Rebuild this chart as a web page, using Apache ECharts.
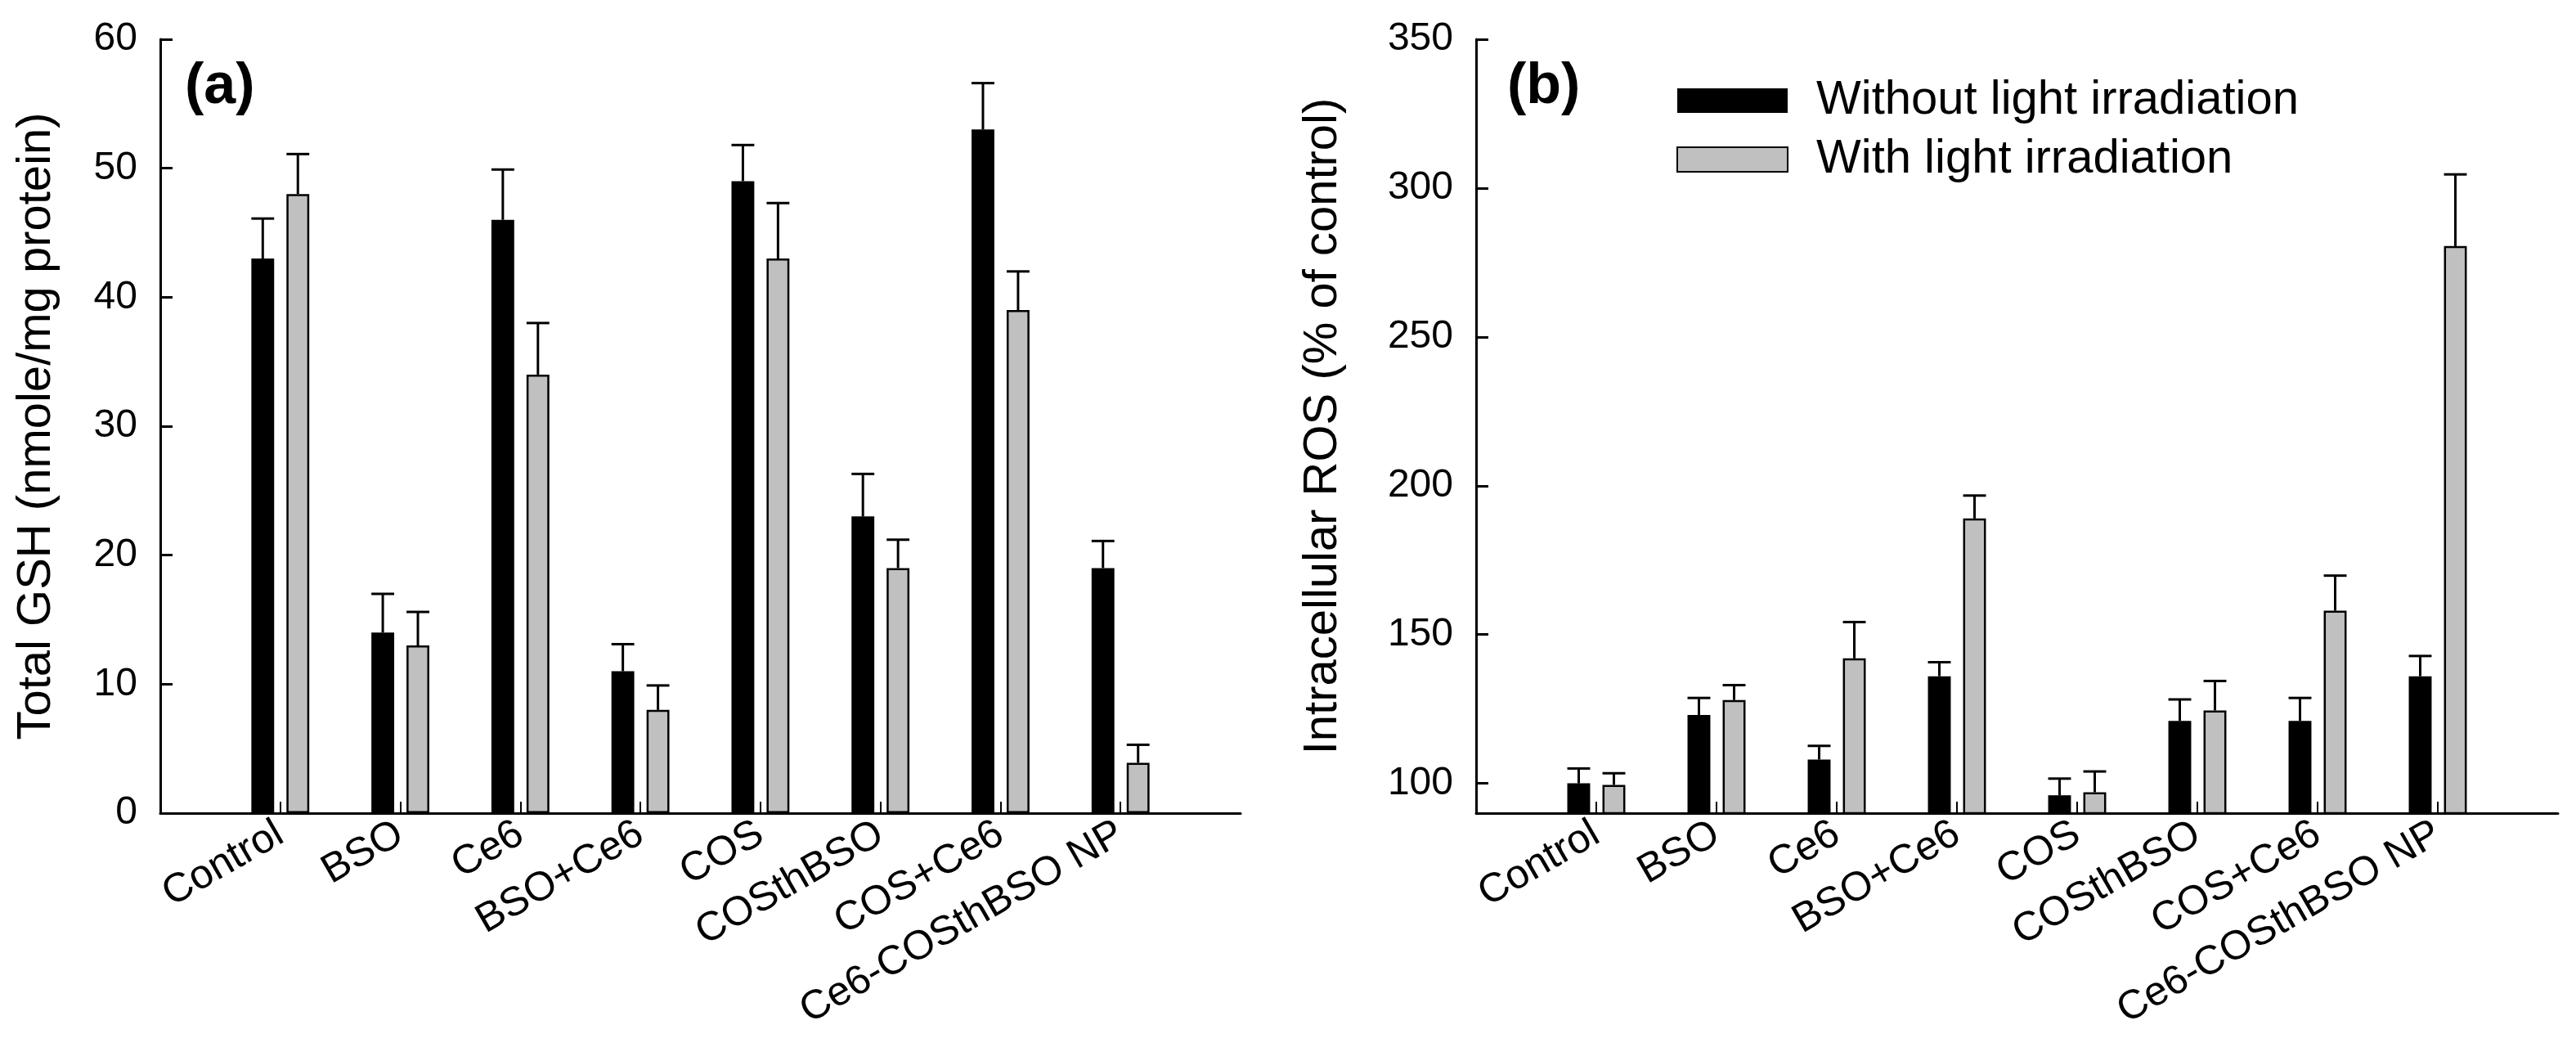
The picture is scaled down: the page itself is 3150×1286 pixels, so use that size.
<!DOCTYPE html>
<html>
<head>
<meta charset="utf-8">
<title>GSH and ROS</title>
<script src="https://cdn.jsdelivr.net/npm/echarts@6/dist/echarts.min.js"></script>
<style>
  html, body { margin: 0; padding: 0; background: #fff; }
  #chart { width: 3150px; height: 1286px; }
</style>
</head>
<body>
<div id="chart"></div>
<script>
// groups on the x axis
const groups = ['Control', 'BSO', 'Ce6', 'BSO+Ce6', 'COS', 'COSthBSO', 'COS+Ce6', 'Ce6-COSthBSO NP']
const seriesNames = ['Without light irradiation', 'With light irradiation']

// (a) total GSH, nmole/mg protein
const gshDark = [43, 14, 46, 11, 49, 23, 53, 19]
const gshDarkErr = [3.1, 3.0, 3.9, 2.1, 2.8, 3.3, 3.6, 2.1]
const gshLight = [48, 13, 34, 8, 43, 19, 39, 3.9]
const gshLightErr = [3.1, 2.6, 4.0, 1.9, 4.3, 2.2, 3.0, 1.4]

// (b) intracellular ROS, % of control
const rosDark = [100, 123, 108, 136, 96, 121, 121, 136]
const rosDarkErr = [5.0, 5.7, 4.6, 4.7, 5.6, 7.2, 7.7, 6.8]
const rosLight = [99.5, 128, 142, 189, 97, 124.5, 158, 280.5]
const rosLightErr = [3.9, 5.0, 12.2, 7.7, 7.0, 9.9, 11.8, 24.1]

const gshTicks = [0, 10, 20, 30, 40, 50, 60]
const rosTicks = [100, 150, 200, 250, 300, 350]

// empty slot at each end, like the original plot
const cats = [''].concat(groups, [''])
const pad = arr => ['-'].concat(arr, ['-'])

const FONT = 'Liberation Sans'
const BAR_W = 0.19      // share of the category slot
const BAR_GAP = 0.54    // share of one bar

const chart = echarts.init(document.getElementById('chart'), null, {renderer: 'canvas'})

function errItems(vals, errs) {
  return vals.map((v, i) => [i + 1, v + errs[i], v])
}

function errorSeries(idx, vals, errs, side) {
  return {
    type: 'custom',
    xAxisIndex: idx,
    yAxisIndex: idx,
    z: 5,
    silent: true,
    encode: {x: 0, y: 1},
    data: errItems(vals, errs),
    renderItem: function (params, api) {
      const band = api.size([1, 0])[0]
      const bw = band * BAR_W
      const shift = side * (bw + bw * BAR_GAP) / 2
      const top = api.coord([api.value(0), api.value(1)])
      const base = api.coord([api.value(0), api.value(2)])
      const x = top[0] + shift
      const st = {stroke: '#000', lineWidth: 3}
      return {
        type: 'group',
        children: [
          {type: 'line', shape: {x1: x, y1: base[1], x2: x, y2: top[1]}, style: st},
          {type: 'line', shape: {x1: x - bw / 2, y1: top[1], x2: x + bw / 2, y2: top[1]}, style: st}
        ]
      }
    }
  }
}

function barSeries(idx, name, vals, light) {
  return {
    type: 'bar',
    name: name,
    xAxisIndex: idx,
    yAxisIndex: idx,
    barWidth: (BAR_W * 100) + '%',
    barGap: (BAR_GAP * 100) + '%',
    data: pad(vals),
    itemStyle: light
      ? {color: '#c0c0c0', borderColor: '#000', borderWidth: 2.5}
      : {color: '#000', borderColor: '#000', borderWidth: 0},
    emphasis: {disabled: true}
  }
}

function xAxis(idx) {
  return {
    type: 'category',
    gridIndex: idx,
    data: cats,
    boundaryGap: false,
    axisLine: {lineStyle: {color: '#000', width: 3}},
    axisTick: {
      inside: true, length: 14,
      interval: (i) => i > 0 && i < cats.length - 1,
      lineStyle: {color: '#000', width: 2}
    },
    axisLabel: {
      interval: 0, rotate: 30, margin: 22,
      color: '#000', fontFamily: FONT, fontSize: 50
    },
    splitLine: {show: false}
  }
}

const yBase = {
  type: 'value',
  nameLocation: 'middle',
  nameTextStyle: {color: '#000', fontFamily: FONT, fontSize: 58},
  axisLine: {show: true, lineStyle: {color: '#000', width: 3}},
  axisTick: {show: true, inside: true, length: 15, lineStyle: {color: '#000', width: 3}},
  axisLabel: {color: '#000', fontFamily: FONT, fontSize: 48, margin: 28},
  splitLine: {show: false}
}

const option = {
  backgroundColor: '#fff',
  animation: false,
  grid: [
    {left: 196, top: 48, width: 1321, height: 946},
    {left: 1805, top: 48, width: 1323, height: 946}
  ],
  xAxis: [xAxis(0), xAxis(1)],
  yAxis: [
    Object.assign({}, yBase, {
      gridIndex: 0, min: gshTicks[0], max: gshTicks[gshTicks.length - 1], interval: 10,
      name: 'Total GSH (nmole/mg protein)', nameGap: 122
    }),
    Object.assign({}, yBase, {
      gridIndex: 1, min: 90, max: rosTicks[rosTicks.length - 1],
      name: 'Intracellular ROS (% of control)', nameGap: 158,
      axisTick: Object.assign({}, yBase.axisTick, {customValues: rosTicks}),
      axisLabel: Object.assign({}, yBase.axisLabel, {customValues: rosTicks})
    })
  ],
  legend: {
    orient: 'vertical',
    left: 2045,
    top: 88,
    icon: 'rect',
    itemWidth: 135,
    itemHeight: 30,
    itemGap: 12,
    selectedMode: false,
    data: seriesNames,
    textStyle: {color: '#000', fontFamily: FONT, fontSize: 58, lineHeight: 60, padding: [0, 0, 0, 30]}
  },
  graphic: [
    {type: 'text', left: 226, top: 72, style: {text: '(a)', font: 'bold 70px "Liberation Sans"', fill: '#000'}},
    {type: 'text', left: 1843, top: 72, style: {text: '(b)', font: 'bold 70px "Liberation Sans"', fill: '#000'}}
  ],
  series: [
    barSeries(0, seriesNames[0], gshDark, false),
    barSeries(0, seriesNames[1], gshLight, true),
    errorSeries(0, gshDark, gshDarkErr, -1),
    errorSeries(0, gshLight, gshLightErr, 1),
    barSeries(1, seriesNames[0], rosDark, false),
    barSeries(1, seriesNames[1], rosLight, true),
    errorSeries(1, rosDark, rosDarkErr, -1),
    errorSeries(1, rosLight, rosLightErr, 1)
  ]
}

chart.setOption(option)
</script>
</body>
</html>
